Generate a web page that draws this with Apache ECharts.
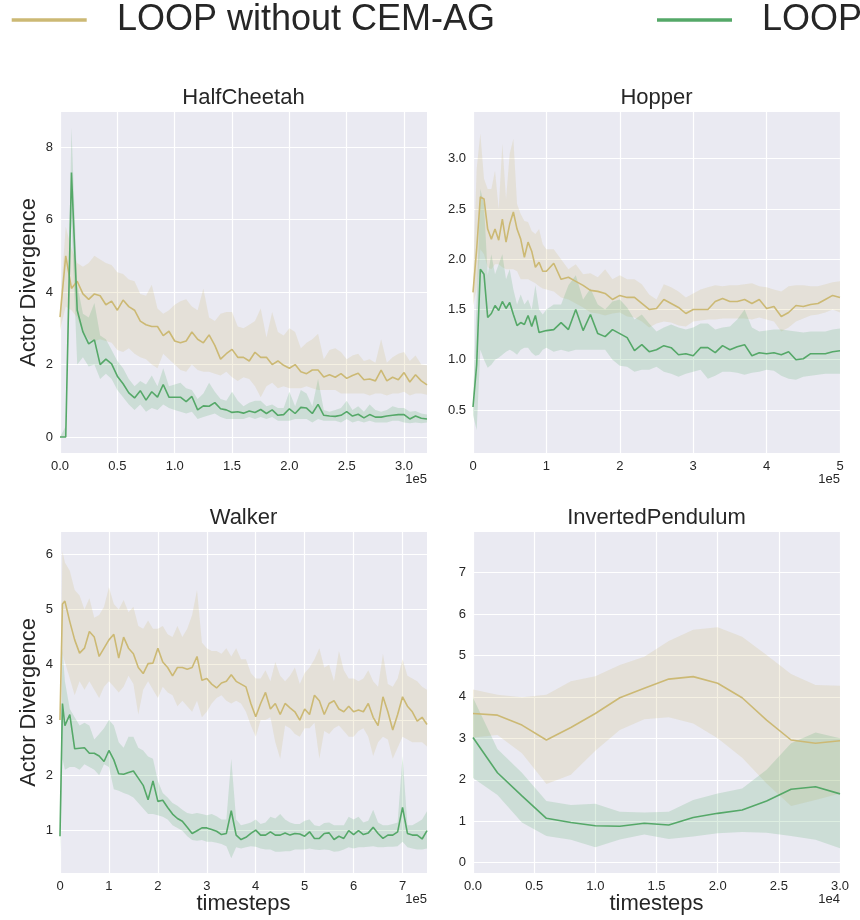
<!DOCTYPE html>
<html>
<head>
<meta charset="utf-8">
<title>Actor Divergence</title>
<script src="https://cdn.jsdelivr.net/npm/echarts@6/dist/echarts.min.js"></script>
<style>
  html, body { margin: 0; padding: 0; background: #fff; }
  #chart { width: 860px; height: 920px; }
</style>
</head>
<body>
<div id="chart"></div>
<script>
// x values are in units of the axis offset (1e5 or 1e4 timesteps)

// HalfCheetah
const HC_X = [0, 0.05, 0.1, 0.15, 0.2, 0.25, 0.3, 0.35, 0.4, 0.45, 0.5, 0.55, 0.6, 0.65, 0.7, 0.75, 0.8, 0.85, 0.9, 0.95,
  1.0, 1.05, 1.1, 1.15, 1.2, 1.25, 1.3, 1.35, 1.4, 1.45, 1.5, 1.55, 1.6, 1.65, 1.7, 1.75, 1.8, 1.85, 1.9, 1.95,
  2.0, 2.05, 2.1, 2.15, 2.2, 2.25, 2.3, 2.35, 2.4, 2.45, 2.5, 2.55, 2.6, 2.65, 2.7, 2.75, 2.8, 2.85, 2.9, 2.95,
  3.0, 3.05, 3.1, 3.15, 3.2];
const HC_BASE = [3.31, 5.0, 4.1, 4.3, 3.95, 3.8, 3.95, 3.9, 3.65, 3.75, 3.5, 3.78, 3.6, 3.5, 3.2, 3.1, 3.05, 3.05, 2.8, 2.92,
  2.65, 2.6, 2.65, 2.9, 2.7, 2.6, 2.82, 2.53, 2.15, 2.3, 2.42, 2.2, 2.2, 2.1, 2.34, 2.2, 2.2, 2.0, 2.1, 1.98,
  1.9, 2.0, 1.8, 1.75, 1.85, 1.85, 1.66, 1.72, 1.65, 1.75, 1.62, 1.7, 1.76, 1.58, 1.6, 1.55, 1.85, 1.55, 1.65, 1.58,
  1.78, 1.52, 1.72, 1.55, 1.44];
const HC_BASE_LO = [2.95, 3.6, 3.5, 3.3, 2.9, 2.7, 2.65, 2.7, 2.65, 2.6, 2.4, 2.35, 2.45, 2.3, 2.2, 2.15, 2.0, 1.9, 2.3, 2.15,
  2.0, 1.85, 1.8, 2.0, 1.85, 1.8, 1.8, 1.75, 1.7, 1.8, 1.65, 1.55, 1.65, 1.6, 1.4, 1.1, 1.4, 1.5, 1.35, 1.4,
  1.35, 1.35, 1.35, 1.4, 1.35, 1.3, 1.3, 1.3, 1.3, 1.2, 1.2, 1.2, 1.2, 1.2, 1.15, 1.2, 1.2, 1.15, 1.2, 1.2,
  1.25, 1.15, 1.2, 1.2, 1.17];
const HC_BASE_HI = [3.6, 5.8, 5.2, 4.8, 4.7, 4.8, 5.0, 4.9, 4.8, 4.75, 4.55, 4.5, 4.35, 4.3, 3.95, 3.9, 4.2, 3.55, 3.4, 3.5,
  3.65, 3.75, 3.8, 3.6, 3.5, 4.1, 3.3, 3.2, 3.4, 3.45, 3.45, 3.05, 3.0, 3.1, 3.2, 3.55, 2.75, 3.45, 2.9, 2.8,
  3.0, 2.9, 2.45, 2.6, 2.7, 2.85, 2.15, 2.4, 2.45, 2.35, 2.15, 2.25, 2.3, 2.1, 2.15, 2.05, 2.7, 2.05, 2.2, 2.3,
  2.35, 2.1, 2.25, 2.0, 1.98];
const HC_LOOP = [0, 0, 7.3, 3.5, 2.9, 2.57, 2.68, 2.0, 2.15, 2.02, 1.68, 1.47, 1.22, 1.08, 1.28, 1.02, 1.25, 1.1, 1.45, 1.1,
  1.1, 1.1, 0.98, 1.12, 0.75, 0.86, 0.85, 0.95, 0.78, 0.75, 0.68, 0.7, 0.66, 0.72, 0.68, 0.76, 0.65, 0.75, 0.6, 0.62,
  0.78, 0.65, 0.82, 0.8, 0.65, 0.9, 0.6, 0.58, 0.57, 0.6, 0.7, 0.58, 0.63, 0.53, 0.62, 0.55, 0.55, 0.58, 0.6, 0.62,
  0.62, 0.5, 0.58, 0.52, 0.5];
const HC_LOOP_LO = [0, 0, 6.0, 2.0, 2.2, 1.95, 2.0, 1.6, 1.75, 1.6, 1.3, 1.1, 0.9, 0.75, 0.9, 0.7, 0.8, 0.75, 0.9, 0.8,
  0.75, 0.7, 0.65, 0.7, 0.5, 0.55, 0.6, 0.65, 0.55, 0.5, 0.5, 0.5, 0.5, 0.55, 0.5, 0.55, 0.5, 0.55, 0.45, 0.45,
  0.45, 0.5, 0.5, 0.5, 0.4, 0.5, 0.45, 0.45, 0.45, 0.4, 0.5, 0.4, 0.45, 0.4, 0.45, 0.4, 0.4, 0.4, 0.45, 0.45,
  0.4, 0.38, 0.4, 0.38, 0.4];
const HC_LOOP_HI = [0, 0.3, 8.55, 4.2, 3.4, 3.3, 3.7, 2.8, 2.7, 2.4, 2.1, 1.9, 1.6, 1.4, 1.55, 1.45, 1.7, 1.4, 1.9, 1.4,
  1.45, 1.5, 1.35, 1.3, 1.05, 1.2, 1.5, 1.25, 1.05, 1.0, 1.25, 1.0, 0.85, 0.95, 1.0, 1.0, 0.85, 0.9, 0.8, 0.8,
  1.25, 0.85, 1.3, 1.2, 0.85, 1.6, 0.75, 0.7, 0.75, 0.8, 1.0, 0.75, 0.85, 0.7, 0.9, 0.75, 0.7, 0.75, 0.85, 0.8,
  0.8, 0.7, 0.72, 0.65, 0.62];

// Hopper
const HOP_X = [0, 0.05, 0.1, 0.15, 0.2, 0.25, 0.3, 0.35, 0.4, 0.45, 0.5, 0.55, 0.6, 0.65, 0.7, 0.75, 0.8, 0.85, 0.9, 0.95, 1.0,
  1.1, 1.2, 1.3, 1.4, 1.5, 1.6, 1.7, 1.8, 1.9, 2.0, 2.1, 2.2, 2.3, 2.4, 2.5, 2.6, 2.7, 2.8, 2.9, 3.0,
  3.1, 3.2, 3.3, 3.4, 3.5, 3.6, 3.7, 3.8, 3.9, 4.0, 4.1, 4.2, 4.3, 4.4, 4.5, 4.6, 4.7, 4.8, 4.9, 5.0];
const HOP_BASE = [1.67, 2.1, 2.62, 2.6, 2.3, 2.2, 2.3, 2.19, 2.4, 2.17, 2.35, 2.47, 2.3, 2.2, 2.02, 2.17, 2.08, 1.92, 1.97, 1.88, 1.88,
  1.96, 1.8, 1.82, 1.78, 1.74, 1.69, 1.68, 1.66, 1.6, 1.64, 1.62, 1.62, 1.56, 1.5, 1.51, 1.6, 1.56, 1.52, 1.46, 1.5,
  1.5, 1.5, 1.58, 1.61, 1.58, 1.58, 1.6, 1.56, 1.6, 1.51, 1.53, 1.43, 1.47, 1.54, 1.53, 1.55, 1.56, 1.6, 1.64, 1.62];
const HOP_BASE_LO = [1.54, 1.7, 2.1, 2.05, 1.92, 1.9, 1.95, 1.95, 1.92, 1.9, 1.9, 1.9, 1.88, 1.8, 1.8, 1.8, 1.78, 1.76, 1.73, 1.71, 1.7,
  1.68, 1.62, 1.6, 1.56, 1.52, 1.47, 1.46, 1.44, 1.46, 1.47, 1.43, 1.42, 1.38, 1.32, 1.36, 1.38, 1.37, 1.34, 1.33, 1.38,
  1.39, 1.4, 1.4, 1.41, 1.41, 1.41, 1.41, 1.4, 1.42, 1.4, 1.38, 1.28, 1.32, 1.38, 1.41, 1.44, 1.45, 1.47, 1.5, 1.47];
const HOP_BASE_HI = [1.8, 2.9, 3.25, 2.8, 2.7, 2.7, 2.88, 2.5, 3.15, 2.6, 3.05, 3.2, 2.55, 2.45, 2.38, 2.37, 2.28, 2.25, 2.3, 2.15, 2.1,
  2.1, 2.0, 1.9, 1.95, 1.85, 1.86, 1.82, 1.9, 1.8, 1.84, 1.8, 1.8, 1.75, 1.65, 1.6, 1.75, 1.72, 1.68, 1.62, 1.66,
  1.7, 1.72, 1.74, 1.73, 1.74, 1.74, 1.75, 1.76, 1.73, 1.72, 1.7, 1.68, 1.73, 1.74, 1.74, 1.73, 1.73, 1.75, 1.77, 1.78];
const HOP_LOOP = [0.53, 0.95, 1.9, 1.85, 1.42, 1.46, 1.54, 1.49, 1.58, 1.51, 1.57, 1.45, 1.34, 1.37, 1.35, 1.44, 1.33, 1.44, 1.27, 1.28, 1.29,
  1.3, 1.37, 1.3, 1.5, 1.29, 1.45, 1.26, 1.23, 1.3, 1.26, 1.22, 1.09, 1.15, 1.08, 1.1, 1.14, 1.12, 1.05, 1.06, 1.04,
  1.12, 1.12, 1.07, 1.14, 1.1, 1.13, 1.15, 1.04, 1.07, 1.06, 1.07, 1.05, 1.08, 1.0, 1.01, 1.06, 1.06, 1.06, 1.08, 1.09];
const HOP_LOOP_LO = [0.45, 0.3, 1.1, 1.0, 0.92, 0.95, 1.0, 1.02, 1.05, 1.08, 1.1, 1.08, 1.05, 1.1, 1.12, 1.12, 1.07, 1.04, 1.05, 1.1, 1.12,
  1.08, 1.1, 1.08, 1.1, 1.1, 1.1, 1.1, 1.1, 1.0, 0.94, 0.93, 0.88, 0.9, 0.9, 0.93, 0.88, 0.86, 0.83, 0.86, 0.88,
  0.9, 0.81, 0.84, 0.88, 0.88, 0.87, 0.85, 0.87, 0.88, 0.9, 0.89, 0.84, 0.81, 0.8, 0.83, 0.84, 0.85, 0.86, 0.86, 0.86];
const HOP_LOOP_HI = [0.6, 1.6, 2.7, 2.55, 1.84, 2.05, 1.85, 1.95, 2.05, 1.8, 1.9, 1.7, 1.55, 1.65, 1.55, 1.6, 1.5, 1.74, 1.5, 1.45, 1.5,
  1.55, 1.55, 1.74, 1.84, 1.6, 1.71, 1.55, 1.5, 1.58, 1.6, 1.52, 1.4, 1.45, 1.36, 1.28, 1.32, 1.35, 1.32, 1.3, 1.32,
  1.36, 1.36, 1.3, 1.32, 1.33, 1.4, 1.5, 1.32, 1.28, 1.29, 1.3, 1.3, 1.29, 1.28, 1.27, 1.28, 1.28, 1.28, 1.3, 1.31];

// Walker
const WK_X = [0, 0.05, 0.1, 0.2, 0.3, 0.4, 0.5, 0.6, 0.7, 0.8, 0.9, 1.0, 1.1, 1.2, 1.3, 1.4, 1.5, 1.6, 1.7, 1.8, 1.9,
  2.0, 2.1, 2.2, 2.3, 2.4, 2.5, 2.6, 2.7, 2.8, 2.9, 3.0, 3.1, 3.2, 3.3, 3.4, 3.5, 3.6, 3.7, 3.8, 3.9,
  4.0, 4.1, 4.2, 4.3, 4.4, 4.5, 4.6, 4.7, 4.8, 4.9, 5.0, 5.1, 5.2, 5.3, 5.4, 5.5, 5.6, 5.7, 5.8, 5.9,
  6.0, 6.1, 6.2, 6.3, 6.4, 6.5, 6.6, 6.7, 6.8, 6.9, 7.0, 7.1, 7.2, 7.3, 7.4, 7.5];
const WK_BASE = [3.0, 5.1, 5.15, 4.78, 4.45, 4.21, 4.3, 4.6, 4.5, 4.15, 4.3, 4.45, 4.55, 4.12, 4.5, 4.3, 4.2, 3.95, 3.84, 4.02, 4.03,
  4.3, 4.05, 3.95, 3.8, 3.95, 3.95, 3.92, 3.95, 4.15, 3.72, 3.75, 3.65, 3.58, 3.67, 3.7, 3.82, 3.7, 3.65, 3.6, 3.3,
  3.06, 3.3, 3.5, 3.2, 3.3, 3.1, 3.3, 3.22, 3.15, 3.0, 3.2, 3.1, 3.45, 3.35, 3.1, 3.3, 3.35, 3.2, 3.15, 3.25,
  3.15, 3.18, 3.15, 3.3, 3.05, 2.9, 3.42, 3.15, 2.82, 3.1, 3.42, 3.25, 3.15, 2.98, 3.05, 2.92];
const WK_BASE_LO = [2.9, 4.2, 4.05, 3.75, 3.45, 3.7, 3.55, 3.7, 3.55, 3.4, 3.6, 3.7, 3.6, 3.5, 3.6, 3.8, 3.65, 3.1, 3.55, 3.7, 3.55,
  3.4, 3.6, 3.5, 3.45, 3.25, 3.35, 3.25, 3.15, 3.35, 3.05, 3.15, 3.3, 3.4, 3.45, 3.35, 3.3, 3.35, 3.3, 3.15, 2.9,
  2.7, 3.0, 3.0, 3.05, 2.6, 2.3, 2.9, 2.85, 2.75, 2.7, 2.85, 2.85, 2.95, 2.3, 2.8, 2.75, 2.85, 2.9, 2.8, 2.7,
  2.7, 2.8, 2.85, 2.7, 2.35, 2.6, 2.7, 2.65, 2.3, 2.5, 2.7, 2.65, 2.6, 2.6, 2.6, 2.52];
const WK_BASE_HI = [3.3, 6.05, 5.85, 5.7, 5.35, 5.25, 5.0, 5.2, 4.85, 4.9, 5.05, 5.4, 5.1, 5.0, 5.17, 4.95, 5.05, 4.7, 4.65, 4.8, 4.65,
  4.65, 4.7, 4.55, 4.5, 4.7, 4.5, 4.65, 4.9, 5.35, 4.4, 4.3, 4.25, 4.25, 4.2, 4.3, 4.15, 4.3, 4.1, 4.1, 3.85,
  3.75, 3.75, 3.9, 3.7, 4.05, 3.8, 3.7, 3.8, 3.95, 3.65, 3.85, 3.95, 4.1, 4.3, 3.95, 4.0, 3.7, 4.25, 3.9, 3.75,
  3.75, 3.7, 3.75, 3.9, 3.7, 3.6, 4.2, 3.65, 3.6, 3.75, 4.1, 3.8, 3.75, 3.7, 3.6, 3.55];
const WK_LOOP = [0.9, 3.3, 2.9, 3.1, 2.48, 2.49, 2.5, 2.4, 2.4, 2.35, 2.25, 2.45, 2.28, 2.03, 2.02, 2.05, 2.08, 1.95, 1.82, 1.56, 1.9,
  1.53, 1.55, 1.42, 1.3, 1.22, 1.17, 1.06, 0.95, 1.0, 1.05, 1.05, 1.02, 0.99, 0.93, 0.95, 1.36, 0.92, 0.84, 0.88, 0.95,
  1.01, 0.92, 0.92, 0.98, 0.92, 0.92, 0.96, 0.92, 0.95, 0.94, 0.9, 0.98, 0.86, 0.86, 0.95, 0.96, 0.84, 0.9, 0.86, 1.0,
  0.93, 1.0, 0.93, 0.96, 1.06, 0.95, 0.86, 0.92, 0.92, 0.98, 1.42, 0.95, 0.92, 0.92, 0.85, 1.0];
const WK_LOOP_LO = [0.6, 2.3, 2.1, 2.15, 2.15, 2.1, 2.2, 2.15, 2.1, 2.0, 2.2, 2.15, 1.75, 1.72, 1.68, 1.65, 1.6, 1.5, 1.4, 1.3, 1.3,
  1.28, 1.25, 1.2, 1.1, 1.05, 1.0, 0.9, 0.83, 0.82, 0.83, 0.8, 0.8, 0.78, 0.76, 0.72, 0.5, 0.7, 0.68, 0.7, 0.72,
  0.71, 0.68, 0.66, 0.66, 0.62, 0.62, 0.63, 0.63, 0.66, 0.66, 0.66, 0.68, 0.66, 0.65, 0.66, 0.65, 0.62, 0.63, 0.66, 0.7,
  0.68, 0.7, 0.7, 0.71, 0.72, 0.7, 0.7, 0.71, 0.71, 0.72, 0.8, 0.7, 0.68, 0.66, 0.66, 0.68];
const WK_LOOP_HI = [1.2, 4.3, 3.7, 3.2, 3.05, 2.9, 2.95, 2.9, 2.65, 2.75, 2.85, 3.0, 2.9, 2.6, 2.5, 2.7, 2.7, 2.5, 2.45, 2.34, 2.3,
  1.9, 1.68, 1.6, 1.5, 1.45, 1.38, 1.32, 1.3, 1.32, 1.3, 1.28, 1.3, 1.26, 1.2, 1.2, 2.3, 1.2, 1.1, 1.12, 1.15,
  1.2, 1.12, 1.15, 1.25, 1.22, 1.3, 1.2, 1.15, 1.12, 1.12, 1.18, 1.2, 1.1, 1.08, 1.14, 1.15, 1.1, 1.1, 1.1, 1.25,
  1.2, 1.25, 1.15, 1.18, 1.38, 1.15, 1.1, 1.1, 1.12, 1.15, 2.35, 1.1, 1.1, 1.15, 1.2, 1.35];

// InvertedPendulum
const IP_X = [0, 0.2, 0.4, 0.6, 0.8, 1.0, 1.2, 1.4, 1.6, 1.8, 2.0, 2.2, 2.4, 2.6, 2.8, 3.0];
const IP_BASE = [3.6, 3.56, 3.32, 2.96, 3.26, 3.6, 3.98, 4.21, 4.43, 4.49, 4.33, 3.98, 3.44, 2.96, 2.88, 2.94];
const IP_BASE_LO = [3.02, 3.08, 2.64, 1.9, 2.12, 2.7, 3.2, 3.46, 3.51, 3.36, 3.0, 2.53, 1.91, 1.37, 1.51, 1.67];
const IP_BASE_HI = [4.18, 4.05, 3.99, 4.05, 4.38, 4.5, 4.77, 4.97, 5.35, 5.62, 5.68, 5.45, 5.01, 4.55, 4.29, 4.27];
const IP_LOOP = [3.02, 2.17, 1.61, 1.07, 0.97, 0.89, 0.88, 0.95, 0.91, 1.09, 1.19, 1.27, 1.49, 1.77, 1.83, 1.66];
const IP_LOOP_LO = [2.04, 1.63, 0.97, 0.64, 0.55, 0.37, 0.56, 0.68, 0.57, 0.63, 0.71, 0.74, 0.72, 0.64, 0.55, 0.35];
const IP_LOOP_HI = [3.98, 2.74, 2.17, 1.49, 1.39, 1.42, 1.23, 1.21, 1.23, 1.51, 1.67, 1.79, 2.24, 2.88, 3.14, 3.0];

// tick positions
const HC_XTICKS = [0, 0.5, 1.0, 1.5, 2.0, 2.5, 3.0];
const HC_YTICKS = [0, 2, 4, 6, 8];
const HOP_XTICKS = [0, 1, 2, 3, 4, 5];
const HOP_YTICKS = [0.5, 1.0, 1.5, 2.0, 2.5, 3.0];
const WK_XTICKS = [0, 1, 2, 3, 4, 5, 6, 7];
const WK_YTICKS = [1, 2, 3, 4, 5, 6];
const IP_XTICKS = [0, 0.5, 1.0, 1.5, 2.0, 2.5, 3.0];
const IP_YTICKS = [0, 1, 2, 3, 4, 5, 6, 7];

const SERIES_NAMES = ['LOOP without CEM-AG', 'LOOP'];
const TAN = '#ccb974';
const GREEN = '#55a868';
const TAN_FILL = 'rgba(204,185,116,0.2)';
const GREEN_FILL = 'rgba(85,168,104,0.2)';
const INK = '#262626';
const FONT = '"Liberation Sans", Arial, sans-serif';

const fix1 = v => v.toFixed(1);
const int = v => String(Math.round(v));

const panels = [
  { title: 'HalfCheetah', left: 60, top: 112, x: HC_X, xr: [0, 3.2], yr: [-0.44, 8.97],
    xt: HC_XTICKS, yt: HC_YTICKS, xf: fix1, yf: int, off: '1e5',
    base: [HC_BASE, HC_BASE_LO, HC_BASE_HI], loop: [HC_LOOP, HC_LOOP_LO, HC_LOOP_HI] },
  { title: 'Hopper', left: 473, top: 112, x: HOP_X, xr: [0, 5], yr: [0.072, 3.465],
    xt: HOP_XTICKS, yt: HOP_YTICKS, xf: int, yf: fix1, off: '1e5',
    base: [HOP_BASE, HOP_BASE_LO, HOP_BASE_HI], loop: [HOP_LOOP, HOP_LOOP_LO, HOP_LOOP_HI] },
  { title: 'Walker', left: 60, top: 532, x: WK_X, xr: [0, 7.5], yr: [0.235, 6.4],
    xt: WK_XTICKS, yt: WK_YTICKS, xf: int, yf: int, off: '1e5',
    base: [WK_BASE, WK_BASE_LO, WK_BASE_HI], loop: [WK_LOOP, WK_LOOP_LO, WK_LOOP_HI] },
  { title: 'InvertedPendulum', left: 473, top: 532, x: IP_X, xr: [0, 3.0], yr: [-0.25, 7.98],
    xt: IP_XTICKS, yt: IP_YTICKS, xf: fix1, yf: int, off: '1e4',
    base: [IP_BASE, IP_BASE_LO, IP_BASE_HI], loop: [IP_LOOP, IP_LOOP_LO, IP_LOOP_HI] }
];
const GW = 367, GH = 341;

function axis(gi, range, ticks, fmt) {
  return {
    type: 'value', gridIndex: gi, min: range[0], max: range[1],
    axisLine: { show: false },
    axisTick: { show: false, customValues: ticks },
    axisLabel: { customValues: ticks, formatter: fmt, color: INK, fontSize: 13, fontFamily: FONT, margin: 7 },
    splitLine: { show: true, lineStyle: { color: '#ffffff', width: 1.2 } }
  };
}

function band(gi, xs, lo, hi, fill) {
  return {
    type: 'custom', xAxisIndex: gi, yAxisIndex: gi, silent: true, clip: true,
    data: xs.map((x, i) => [x, lo[i], hi[i]]),
    encode: { x: 0, y: [1, 2] },
    renderItem(params, api) {
      if (params.dataIndex !== 0) return null;
      const pts = [];
      for (let i = 0; i < xs.length; i++) pts.push(api.coord([xs[i], hi[i]]));
      for (let i = xs.length - 1; i >= 0; i--) pts.push(api.coord([xs[i], lo[i]]));
      return { type: 'polygon', shape: { points: pts }, style: { fill: fill, stroke: null } };
    }
  };
}

function line(gi, name, xs, ys, color) {
  return {
    type: 'line', name, xAxisIndex: gi, yAxisIndex: gi, clip: true,
    data: xs.map((x, i) => [x, ys[i]]),
    symbol: 'none', showSymbol: false,
    lineStyle: { color, width: 1.6 }, itemStyle: { color }
  };
}

function txt(text, x, y, size, align, extra) {
  return Object.assign({
    type: 'text', x, y, silent: true,
    style: { text, fontSize: size, fontFamily: FONT, fill: INK,
             align, textAlign: align, verticalAlign: 'middle', textVerticalAlign: 'middle' }
  }, extra || {});
}

const grids = [], xAxes = [], yAxes = [], series = [], graphics = [];
panels.forEach((p, gi) => {
  grids.push({ left: p.left, top: p.top, width: GW, height: GH, show: true,
               backgroundColor: '#eaeaf2', borderWidth: 0, containLabel: false, outerBoundsMode: 'none' });
  xAxes.push(axis(gi, p.xr, p.xt, p.xf));
  yAxes.push(axis(gi, p.yr, p.yt, p.yf));
  series.push(band(gi, p.x, p.base[1], p.base[2], TAN_FILL));
  series.push(band(gi, p.x, p.loop[1], p.loop[2], GREEN_FILL));
  series.push(line(gi, SERIES_NAMES[0], p.x, p.base[0], TAN));
  series.push(line(gi, SERIES_NAMES[1], p.x, p.loop[0], GREEN));

  const cx = p.left + GW / 2;
  graphics.push(txt(p.title, cx, p.top - 13.6, 22, 'center'));
  graphics.push(txt(p.off, p.left + GW, p.top + GH + 26, 13, 'right'));
  if (p.left < 100) {
    graphics.push(txt('Actor Divergence', 29, p.top + GH / 2, 22, 'center', { rotation: Math.PI / 2 }));
  }
  if (p.top > 300) {
    graphics.push(txt('timesteps', cx, p.top + GH + 30.5, 22, 'center'));
  }
});

// legend row
graphics.push({ type: 'line', silent: true, shape: { x1: 11.7, y1: 20, x2: 86.7, y2: 20 },
                style: { stroke: TAN, lineWidth: 3.3 } });
graphics.push(txt(SERIES_NAMES[0], 117, 20, 36, 'left'));
graphics.push({ type: 'line', silent: true, shape: { x1: 657, y1: 20, x2: 732, y2: 20 },
                style: { stroke: GREEN, lineWidth: 3.3 } });
graphics.push(txt(SERIES_NAMES[1], 762, 20, 36, 'left'));

const chart = echarts.init(document.getElementById('chart'), null, { renderer: 'canvas' });
chart.setOption({
  animation: false,
  backgroundColor: '#ffffff',
  grid: grids,
  xAxis: xAxes,
  yAxis: yAxes,
  series: series,
  graphic: graphics
});
</script>
</body>
</html>
